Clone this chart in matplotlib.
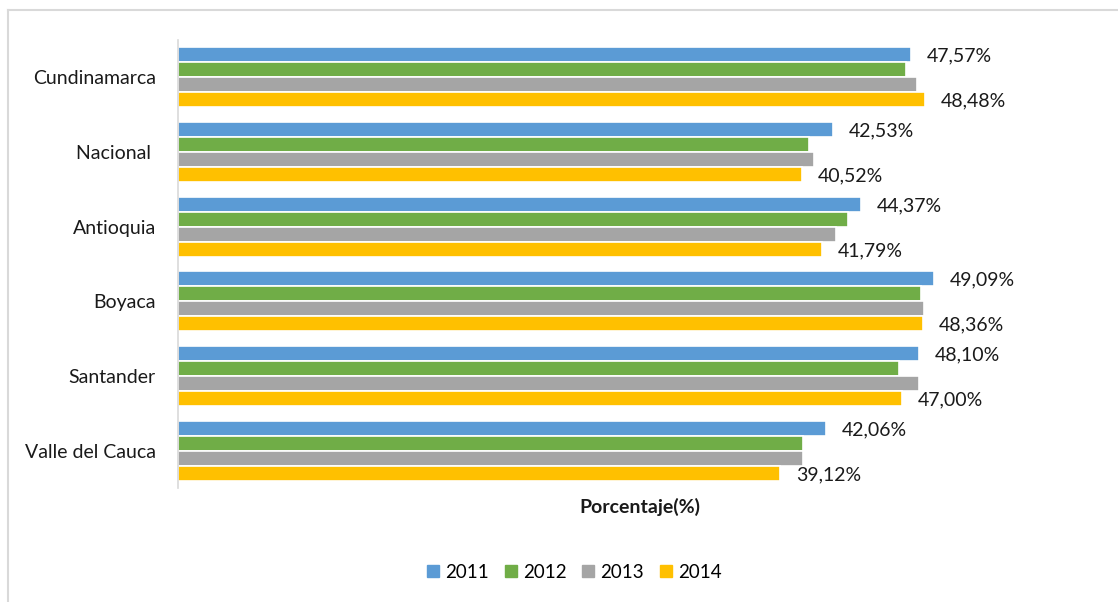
import matplotlib
matplotlib.use("Agg")
import matplotlib.pyplot as plt
from matplotlib.lines import Line2D
import numpy as np

plt.rcParams["font.family"] = ["Lato", "DejaVu Sans"]

categories = ["Cundinamarca", "Nacional ", "Antioquia", "Boyaca", "Santander", "Valle del Cauca"]
years = ["2011", "2012", "2013", "2014"]
v2011 = [47.57, 42.53, 44.37, 49.09, 48.10, 42.06]
v2012 = [47.29, 40.97, 43.51, 48.25, 46.84, 40.60]
v2013 = [47.99, 41.28, 42.71, 48.44, 48.10, 40.58]
v2014 = [48.48, 40.52, 41.79, 48.36, 47.00, 39.12]
colors = ["#5B9BD5", "#70AD47", "#A5A5A5", "#FFC000"]
labelled = {0: v2011, 3: v2014}

W, H = 1118, 602
fig = plt.figure(figsize=(W / 100, H / 100), dpi=100)
ax = fig.add_axes([178 / W, 1 - 488 / H, 924 / W, (488 - 40) / H])

y = np.arange(len(categories))
step = 0.2
series = [v2011, v2012, v2013, v2014]
for i, (vals, c) in enumerate(zip(series, colors)):
    pos = y + (i - 1.5) * step
    ax.barh(pos, vals, height=step, color=c, edgecolor="white", linewidth=1.2, label=years[i])
    if i in labelled:
        for p, v in zip(pos, vals):
            ax.annotate(f"{v:.2f}%".replace(".", ","), (v, p), xytext=(11.5, -1),
                        textcoords="offset points", va="center", ha="left",
                        fontsize=14, color="#1a1a1a", annotation_clip=False)

ax.set_xlim(0, 60)
ax.set_ylim(len(categories) - 0.5, -0.5)
ax.set_yticks(y)
ax.set_yticklabels(categories, fontsize=14, color="#1a1a1a")
ax.tick_params(axis="y", length=0, pad=16)
ax.set_xticks([])
for s in ["top", "right", "bottom"]:
    ax.spines[s].set_visible(False)
ax.spines["left"].set_color("#D9D9D9")
ax.spines["left"].set_linewidth(1.2)

fig.text(640 / W, 1 - 507 / H, "Porcentaje(%)", ha="center", va="center",
         fontsize=14, fontweight="bold", color="#1a1a1a")

handles = [Line2D([], [], marker="s", linestyle="", markersize=9, color=c) for c in colors]
fig.legend(handles, years, loc="center", bbox_to_anchor=(574 / W, 1 - 572 / H), ncol=4,
           frameon=False, fontsize=13.5, handlelength=0.7, handletextpad=0.3, columnspacing=0.8)

# outer chart border (only left and top visible in the crop)
fig.add_artist(Line2D([8 / W, 8 / W], [0, 1 - 10 / H], color="#D9D9D9", lw=1.5))
fig.add_artist(Line2D([8 / W, 1], [1 - 10 / H, 1 - 10 / H], color="#D9D9D9", lw=1.5))

fig.savefig("out.png", dpi=100)
